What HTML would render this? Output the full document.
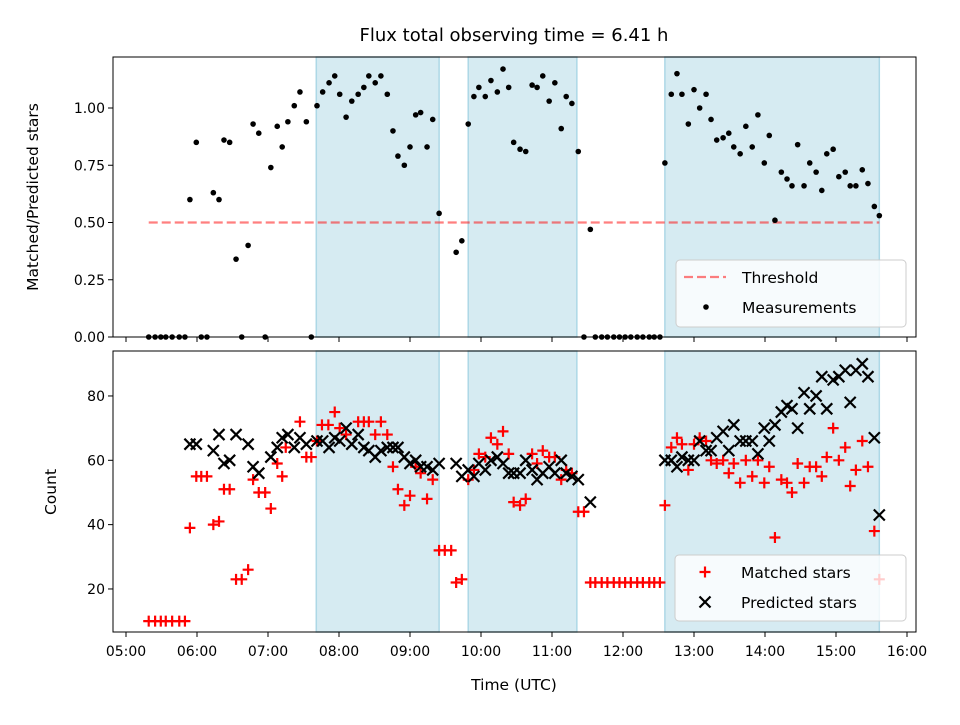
<!DOCTYPE html>
<html><head><meta charset="utf-8"><style>
body{margin:0;background:#fff}
svg text{font-family:"DejaVu Sans","Liberation Sans",sans-serif;fill:#000}
</style></head><body>
<svg id="fig" width="960" height="720" xmlns="http://www.w3.org/2000/svg">
<text x="514" y="41" font-size="18" text-anchor="middle">Flux total observing time = 6.41 h</text>
<g id="topPanel"></g>
<g id="botPanel"></g>
<text x="38" y="197" font-size="15.5" text-anchor="middle" transform="rotate(-90 38 197)">Matched/Predicted stars</text>
<text x="56" y="492" font-size="15.5" text-anchor="middle" transform="rotate(-90 56 492)">Count</text>
<text x="514" y="690" font-size="15.5" text-anchor="middle">Time (UTC)</text>
</svg>
<script>
const spanStarts=[7.68,9.82,12.59];
const spanEnds=[9.41,11.35,15.61];
const thresholdValue=0.5;
const thresholdRange=[5.32,15.61];
const xTickLabels=["05:00","06:00","07:00","08:00","09:00","10:00","11:00","12:00","13:00","14:00","15:00","16:00"];
const xTickHours=[5,6,7,8,9,10,11,12,13,14,15,16];
const topTicks=[0,0.25,0.5,0.75,1.0];
const botTicks=[20,40,60,80];
const ratioTimes=[5.32,5.41,5.49,5.56,5.65,5.75,5.83,5.90,5.99,6.06,6.14,6.23,6.31,6.38,6.46,6.55,6.63,6.72,6.79,6.87,6.96,7.04,7.13,7.20,7.28,7.37,7.45,7.54,7.61,7.69,7.77,7.86,7.94,8.01,8.10,8.18,8.27,8.35,8.42,8.51,8.59,8.68,8.76,8.83,8.92,9.00,9.08,9.15,9.24,9.32,9.41,9.65,9.73,9.82,9.90,9.97,10.06,10.14,10.23,10.31,10.39,10.46,10.55,10.63,10.72,10.79,10.87,10.96,11.04,11.13,11.20,11.28,11.37,11.45,11.54,11.61,11.70,11.78,11.87,11.95,12.03,12.11,12.20,12.28,12.37,12.44,12.52,12.59,12.68,12.76,12.83,12.92,13.00,13.08,13.17,13.24,13.32,13.41,13.49,13.56,13.65,13.73,13.82,13.90,13.99,14.06,14.14,14.23,14.31,14.38,14.46,14.55,14.63,14.72,14.80,14.87,14.96,15.04,15.13,15.20,15.28,15.37,15.45,15.54,15.61];
const ratioValues=[0,0,0,0,0,0,0,.60,.85,0,0,.63,.60,.86,.85,.34,0,.40,.93,.89,0,.74,.92,.83,.94,1.01,1.07,.94,0,1.01,1.07,1.11,1.14,1.06,.96,1.03,1.06,1.09,1.14,1.11,1.14,1.06,.90,.79,.75,.83,.97,.98,.83,.95,.54,.37,.42,.93,1.05,1.09,1.05,1.12,1.07,1.17,1.09,.85,.82,.81,1.10,1.09,1.14,1.03,1.11,.91,1.05,1.02,.81,0,.47,0,0,0,0,0,0,0,0,0,0,0,0,.76,1.06,1.15,1.06,.93,1.08,1.00,1.06,.95,.86,.87,.89,.83,.80,.92,.83,.97,.76,.88,.51,.72,.69,.66,.84,.66,.76,.72,.64,.80,.82,.70,.72,.66,.66,.73,.67,.57,.53];
const matchedTimes=[5.32,5.41,5.49,5.56,5.65,5.75,5.83,5.90,5.99,6.06,6.14,6.23,6.31,6.38,6.46,6.55,6.63,6.72,6.79,6.87,6.96,7.04,7.13,7.20,7.25,7.45,7.54,7.61,7.69,7.76,7.85,7.94,8.01,8.10,8.27,8.35,8.42,8.51,8.59,8.68,8.76,8.83,8.92,9.00,9.08,9.15,9.24,9.32,9.41,9.49,9.58,9.65,9.73,9.82,9.90,9.97,10.06,10.14,10.23,10.31,10.39,10.46,10.55,10.63,10.72,10.79,10.87,10.96,11.04,11.13,11.20,11.28,11.37,11.45,11.54,11.61,11.70,11.78,11.87,11.95,12.03,12.11,12.20,12.28,12.37,12.44,12.52,12.59,12.68,12.76,12.83,12.92,13.00,13.08,13.17,13.24,13.32,13.41,13.49,13.56,13.65,13.73,13.82,13.90,13.99,14.06,14.14,14.23,14.31,14.38,14.46,14.55,14.63,14.72,14.80,14.87,14.96,15.04,15.13,15.20,15.28,15.37,15.45,15.54,15.61];
const matchedValues=[10,10,10,10,10,10,10,39,55,55,55,40,41,51,51,23,23,26,54,50,50,45,59,55,64,72,61,61,66,71,71,75,70,68,72,72,72,68,72,68,58,51,46,49,58,56,48,54,32,32,32,22,23,54,57,62,61,67,65,69,62,47,46,48,62,59,63,61,61,54,57,56,44,44,22,22,22,22,22,22,22,22,22,22,22,22,22,46,64,67,65,57,65,67,66,60,59,60,56,59,53,60,55,60,53,58,36,54,53,50,59,53,58,58,55,61,70,60,64,52,57,66,58,38,23];
const predictedTimes=[5.90,5.99,6.23,6.31,6.38,6.46,6.55,6.72,6.79,6.87,7.04,7.13,7.20,7.28,7.37,7.45,7.54,7.69,7.77,7.86,7.94,8.01,8.10,8.18,8.27,8.35,8.42,8.51,8.59,8.68,8.76,8.83,8.92,9.00,9.08,9.15,9.24,9.32,9.41,9.65,9.73,9.82,9.90,9.97,10.06,10.14,10.23,10.31,10.39,10.46,10.55,10.63,10.72,10.79,10.87,10.96,11.04,11.13,11.20,11.28,11.37,11.54,12.59,12.68,12.76,12.83,12.92,13.00,13.08,13.17,13.24,13.32,13.41,13.49,13.56,13.65,13.73,13.82,13.90,13.99,14.06,14.14,14.23,14.31,14.38,14.46,14.55,14.63,14.72,14.80,14.87,14.96,15.04,15.13,15.20,15.28,15.37,15.45,15.54,15.61];
const predictedValues=[65,65,63,68,59,60,68,65,58,56,61,64,67,68,64,67,65,66,66,64,67,66,70,65,68,64,63,61,63,64,64,64,61,59,60,58,58,57,59,59,55,57,55,59,57,60,61,59,56,56,56,60,57,54,56,58,56,60,56,55,54,47,60,60,58,61,60,60,66,63,63,67,69,63,71,66,66,66,62,70,66,71,75,77,76,70,81,76,80,86,76,85,86,88,78,88,90,86,67,43];

const NS="http://www.w3.org/2000/svg";
const AXL=113,AXR=916;
const xs=h=>126+(h-5)*71;
const yTop=v=>337-v*229;
const yBot=v=>653.3-v*3.2167;
function mk(parent,tag,attrs){const e=document.createElementNS(NS,tag);for(const k in attrs)e.setAttribute(k,attrs[k]);parent.appendChild(e);return e;}

function panel(g,y0,y1,ticks,yf,fmt,labelsX){
  for(let i=0;i<spanStarts.length;i++){
    const r=mk(g,'rect',{x:xs(spanStarts[i]),y:y0,width:xs(spanEnds[i])-xs(spanStarts[i]),height:y1-y0,fill:'#add8e6','fill-opacity':0.5,stroke:'#add8e6','stroke-width':1.5});
    
    
  }
  ticks.forEach(t=>{
    const y=yf(t);
    mk(g,'line',{x1:AXL-5,x2:AXL,y1:y,y2:y,stroke:'#000','stroke-width':1});
    const tx=mk(g,'text',{x:AXL-8,y:y+5,'font-size':14,'text-anchor':'end'});
    tx.textContent=fmt(t);
    
    
  });
  xTickHours.forEach((h,i)=>{
    const x=xs(h);
    mk(g,'line',{x1:x,x2:x,y1:y1,y2:y1+5,stroke:'#000','stroke-width':1});
    if(labelsX){
      const tx=mk(g,'text',{x:x,y:y1+24,'font-size':14,'text-anchor':'middle'});
      tx.textContent=xTickLabels[i];
      
      
    }
  });
}
const topG=document.getElementById('topPanel');
const botG=document.getElementById('botPanel');
panel(topG,57,337,topTicks,yTop,t=>t.toFixed(2),false);
panel(botG,351,632,botTicks,yBot,t=>String(t),true);

const th=mk(topG,'line',{x1:xs(thresholdRange[0]),x2:xs(thresholdRange[1]),y1:yTop(thresholdValue),y2:yTop(thresholdValue),stroke:'#ff0000','stroke-opacity':0.5,'stroke-width':2.2,'stroke-dasharray':'9,4'});



ratioTimes.forEach((t,i)=>{
  const c=mk(topG,'circle',{cx:xs(t),cy:yTop(ratioValues[i]),r:2.8,fill:'#000'});
  
  
});
function plus(g,x,y){return mk(g,'path',{d:`M${x-5.5} ${y}H${x+5.5}M${x} ${y-5.5}V${y+5.5}`,stroke:'#ff0000','stroke-width':2.2,fill:'none'});}
function cross(g,x,y){return mk(g,'path',{d:`M${x-5.5} ${y-5.5}L${x+5.5} ${y+5.5}M${x-5.5} ${y+5.5}L${x+5.5} ${y-5.5}`,stroke:'#000','stroke-width':2.2,fill:'none'});}
matchedTimes.forEach((t,i)=>{
  const p=plus(botG,xs(t),yBot(matchedValues[i]));
  
  
});
predictedTimes.forEach((t,i)=>{
  const p=cross(botG,xs(t),yBot(predictedValues[i]));
  
  
});
[[57,337],[351,632]].forEach(([a,b],k)=>{
  const f=mk(k?botG:topG,'rect',{x:AXL,y:a,width:AXR-AXL,height:b-a,fill:'none',stroke:'#000','stroke-width':1});
  
  
});
function legend(g,x,y,w,h,items){
  const lg=mk(g,'g',{});
  
  
  mk(lg,'rect',{x:x,y:y,width:w,height:h,rx:4,fill:'#fff','fill-opacity':0.8,stroke:'#ccc','stroke-width':1});
  items.forEach((it,i)=>{
    const cy=y+17+i*30;
    const e=mk(lg,'g',{});
    
    
    it.draw(e,x+30,cy);
    const t=mk(e,'text',{x:x+66,y:cy+6,'font-size':15.5});
    t.textContent=it.label;
  });
}
legend(topG,676,260,230,67,[
  {label:'Threshold',draw:(e,x,y)=>mk(e,'line',{x1:x-22,x2:x+20,y1:y,y2:y,stroke:'#ff0000','stroke-opacity':0.5,'stroke-width':2.2,'stroke-dasharray':'9,4'})},
  {label:'Measurements',draw:(e,x,y)=>mk(e,'circle',{cx:x,cy:y,r:2.8,fill:'#000'})}
]);
legend(botG,675,555,231,66,[
  {label:'Matched stars',draw:(e,x,y)=>plus(e,x,y)},
  {label:'Predicted stars',draw:(e,x,y)=>cross(e,x,y)}
]);
</script>
</body></html>
